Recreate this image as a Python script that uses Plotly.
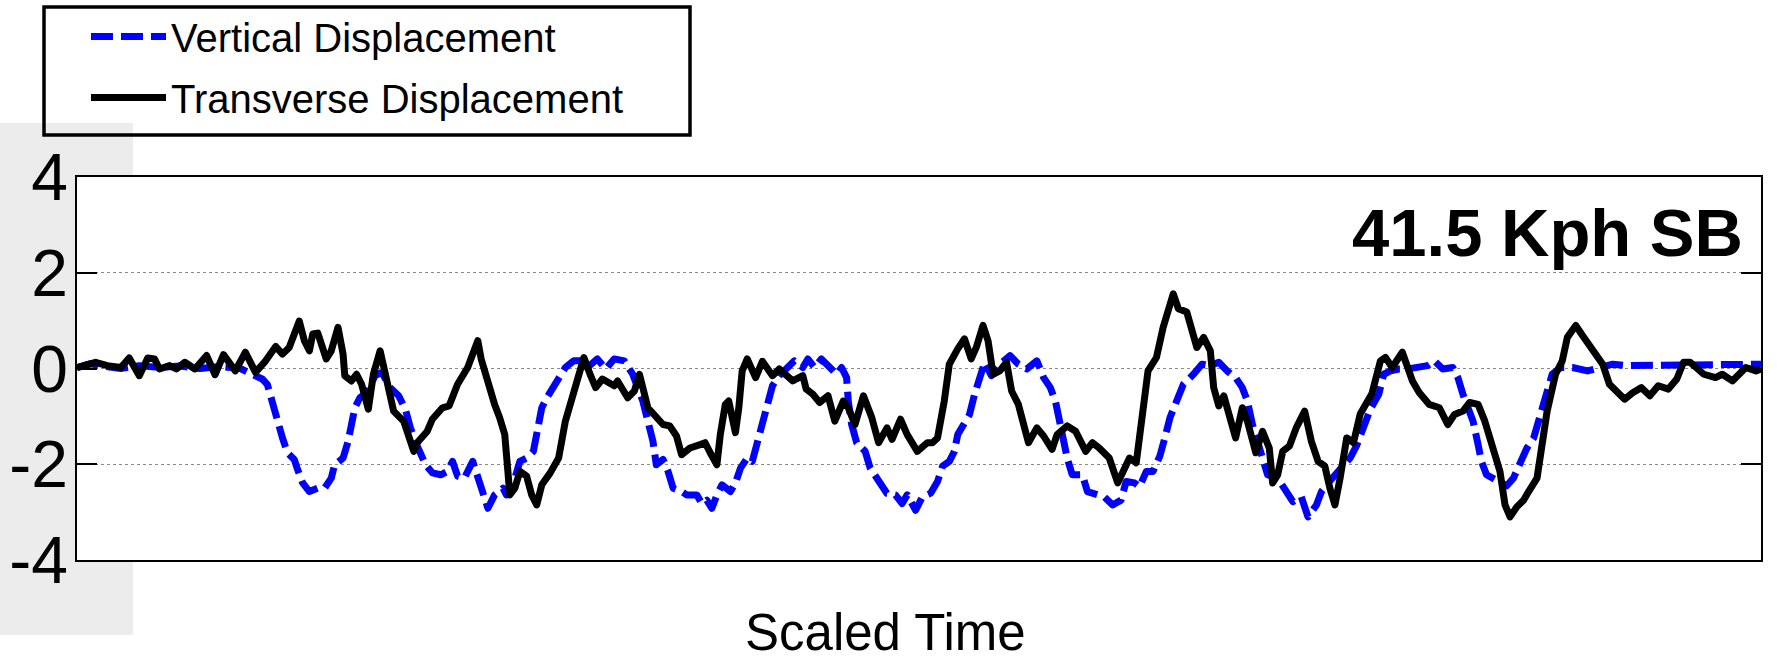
import plotly.graph_objects as go

# ---- data -----------------------------------------------------------------
# Scaled time runs from 0 (start of the record) to 1 (end of the record).
t_vertical = [
    0.000, 0.008, 0.015, 0.026, 0.037, 0.049, 0.061, 0.073, 0.085, 0.097,
    0.104, 0.110, 0.113, 0.116, 0.119, 0.122, 0.125, 0.126, 0.129, 0.131,
    0.134, 0.138, 0.143, 0.147, 0.151, 0.153, 0.158, 0.161, 0.163, 0.165,
    0.168, 0.172, 0.177, 0.181, 0.186, 0.191, 0.195, 0.198, 0.202, 0.207,
    0.211, 0.216, 0.220, 0.223, 0.226, 0.230, 0.235, 0.238, 0.241, 0.244,
    0.248, 0.253, 0.255, 0.260, 0.263, 0.267, 0.271, 0.274, 0.276, 0.279,
    0.283, 0.287, 0.290, 0.295, 0.300, 0.303, 0.309, 0.314, 0.319, 0.325,
    0.330, 0.333, 0.336, 0.339, 0.342, 0.344, 0.348, 0.351, 0.354, 0.359,
    0.362, 0.368, 0.371, 0.374, 0.377, 0.380, 0.383, 0.388, 0.391, 0.394,
    0.398, 0.401, 0.404, 0.407, 0.410, 0.413, 0.417, 0.422, 0.426, 0.431,
    0.434, 0.438, 0.442, 0.448, 0.451, 0.454, 0.457, 0.458, 0.460, 0.463,
    0.468, 0.471, 0.476, 0.481, 0.486, 0.490, 0.493, 0.498, 0.502, 0.507,
    0.511, 0.514, 0.518, 0.521, 0.523, 0.526, 0.530, 0.533, 0.536, 0.539,
    0.543, 0.548, 0.554, 0.559, 0.564, 0.570, 0.574, 0.578, 0.581, 0.583,
    0.586, 0.588, 0.591, 0.597, 0.600, 0.606, 0.610, 0.615, 0.620, 0.623,
    0.628, 0.631, 0.635, 0.639, 0.643, 0.646, 0.649, 0.653, 0.657, 0.663,
    0.668, 0.673, 0.678, 0.683, 0.688, 0.692, 0.695, 0.698, 0.701, 0.704,
    0.707, 0.713, 0.717, 0.722, 0.727, 0.731, 0.736, 0.739, 0.743, 0.747,
    0.752, 0.756, 0.760, 0.764, 0.768, 0.773, 0.776, 0.780, 0.785, 0.790,
    0.796, 0.802, 0.806, 0.811, 0.817, 0.820, 0.823, 0.826, 0.829, 0.832,
    0.834, 0.837, 0.841, 0.845, 0.849, 0.853, 0.857, 0.861, 0.865, 0.868,
    0.870, 0.873, 0.876, 0.881, 0.888, 0.897, 0.905, 0.912, 0.920, 0.928,
    0.938, 0.948, 0.958, 0.968, 0.977, 0.987, 1.000,
]
vertical_disp = [
    0.02, 0.10, 0.05, 0.00, 0.06, 0.02, 0.05, 0.00, 0.04, 0.00,
    -0.12, -0.22, -0.33, -0.75, -1.10, -1.45, -1.76, -1.80, -1.90, -2.11,
    -2.39, -2.57, -2.50, -2.50, -2.29, -2.01, -1.87, -1.52, -1.10, -0.82,
    -0.61, -0.50, -0.15, -0.08, -0.40, -0.57, -0.85, -1.24, -1.62, -2.01,
    -2.18, -2.22, -2.15, -1.94, -2.25, -2.29, -1.94, -2.29, -2.57, -2.92,
    -2.64, -2.50, -2.64, -2.29, -1.94, -1.87, -1.73, -1.24, -0.82, -0.61,
    -0.36, -0.15, 0.02, 0.16, 0.16, 0.02, 0.20, -0.01, 0.20, 0.16,
    -0.12, -0.40, -0.68, -1.10, -1.52, -2.01, -1.90, -2.15, -2.50, -2.57,
    -2.64, -2.64, -2.82, -2.75, -2.92, -2.64, -2.43, -2.57, -2.39, -2.08,
    -1.87, -1.94, -1.52, -1.10, -0.68, -0.36, -0.15, 0.02, 0.16, 0.02,
    0.20, 0.02, 0.20, -0.01, -0.12, 0.02, -0.19, -0.68, -1.17, -1.55,
    -1.73, -2.08, -2.36, -2.61, -2.64, -2.82, -2.64, -2.96, -2.68, -2.60,
    -2.36, -2.04, -1.94, -1.73, -1.38, -1.17, -0.96, -0.54, -0.19, 0.13,
    -0.15, 0.09, 0.27, 0.09, -0.01, 0.16, -0.19, -0.40, -0.68, -1.03,
    -1.45, -1.87, -2.22, -2.22, -2.57, -2.64, -2.68, -2.85, -2.75, -2.36,
    -2.39, -2.47, -2.15, -2.15, -1.83, -1.45, -1.03, -0.68, -0.33, -0.12,
    0.09, 0.06, 0.13, -0.05, -0.19, -0.40, -0.68, -1.17, -1.52, -1.80,
    -2.22, -2.29, -2.50, -2.78, -2.68, -3.10, -2.85, -2.57, -2.39, -2.22,
    -2.01, -1.87, -1.60, -1.20, -0.85, -0.54, -0.12, -0.05, -0.01, -0.01,
    0.02, 0.06, 0.16, -0.01, 0.02, -0.19, -0.54, -0.82, -1.10, -1.59,
    -1.94, -2.22, -2.29, -2.36, -2.45, -2.29, -1.94, -1.66, -1.45, -1.10,
    -0.75, -0.40, -0.12, 0.02, 0.02, -0.05, 0.02, 0.09, 0.06, 0.06,
    0.06, 0.06, 0.09, 0.06, 0.06, 0.09, 0.09,
]

t_transverse = [
    0.000, 0.004, 0.011, 0.018, 0.026, 0.031, 0.037, 0.042, 0.046, 0.049,
    0.055, 0.059, 0.064, 0.070, 0.077, 0.082, 0.087, 0.094, 0.100, 0.106,
    0.112, 0.118, 0.122, 0.126, 0.132, 0.135, 0.138, 0.140, 0.143, 0.148,
    0.151, 0.155, 0.158, 0.159, 0.163, 0.166, 0.169, 0.173, 0.176, 0.180,
    0.183, 0.188, 0.194, 0.200, 0.202, 0.208, 0.211, 0.217, 0.221, 0.226,
    0.232, 0.235, 0.238, 0.240, 0.244, 0.248, 0.251, 0.254, 0.256, 0.257,
    0.260, 0.263, 0.267, 0.270, 0.273, 0.276, 0.281, 0.286, 0.290, 0.294,
    0.297, 0.301, 0.305, 0.308, 0.312, 0.319, 0.321, 0.327, 0.331, 0.334,
    0.339, 0.344, 0.348, 0.352, 0.356, 0.359, 0.364, 0.370, 0.373, 0.376,
    0.380, 0.382, 0.385, 0.387, 0.391, 0.393, 0.395, 0.398, 0.403, 0.407,
    0.413, 0.417, 0.422, 0.425, 0.431, 0.433, 0.437, 0.441, 0.446, 0.450,
    0.455, 0.458, 0.462, 0.467, 0.472, 0.476, 0.481, 0.484, 0.489, 0.493,
    0.499, 0.505, 0.508, 0.511, 0.515, 0.518, 0.523, 0.527, 0.531, 0.534,
    0.538, 0.541, 0.544, 0.548, 0.552, 0.555, 0.559, 0.562, 0.565, 0.570,
    0.574, 0.579, 0.582, 0.588, 0.593, 0.599, 0.603, 0.607, 0.613, 0.618,
    0.621, 0.625, 0.629, 0.633, 0.636, 0.641, 0.645, 0.651, 0.654, 0.659,
    0.663, 0.665, 0.669, 0.673, 0.675, 0.678, 0.681, 0.685, 0.688, 0.692,
    0.695, 0.700, 0.704, 0.708, 0.710, 0.713, 0.716, 0.720, 0.724, 0.729,
    0.733, 0.737, 0.741, 0.744, 0.747, 0.750, 0.754, 0.758, 0.762, 0.769,
    0.774, 0.777, 0.781, 0.787, 0.790, 0.793, 0.797, 0.803, 0.809, 0.814,
    0.818, 0.823, 0.827, 0.832, 0.836, 0.841, 0.845, 0.848, 0.851, 0.855,
    0.859, 0.862, 0.867, 0.870, 0.873, 0.878, 0.882, 0.885, 0.890, 0.894,
    0.900, 0.906, 0.910, 0.915, 0.919, 0.924, 0.929, 0.934, 0.939, 0.945,
    0.950, 0.954, 0.958, 0.966, 0.973, 0.977, 0.983, 0.991, 0.997, 1.000,
]
transverse_disp = [
    0.02, 0.06, 0.13, 0.06, 0.02, 0.22, -0.15, 0.22, 0.20, -0.01,
    0.06, -0.01, 0.13, -0.01, 0.27, -0.13, 0.29, -0.05, 0.34, -0.08,
    0.16, 0.46, 0.30, 0.44, 0.99, 0.58, 0.37, 0.72, 0.74, 0.20,
    0.37, 0.86, 0.30, -0.15, -0.26, -0.12, -0.33, -0.85, -0.12, 0.37,
    -0.12, -0.89, -1.10, -1.73, -1.55, -1.31, -1.06, -0.82, -0.78, -0.33,
    0.02, 0.34, 0.58, 0.20, -0.33, -0.75, -1.03, -1.38, -2.20, -2.64,
    -2.50, -2.15, -2.25, -2.64, -2.85, -2.43, -2.18, -1.87, -1.10, -0.64,
    -0.33, 0.23, -0.15, -0.40, -0.22, -0.36, -0.26, -0.61, -0.47, -0.12,
    -0.82, -1.03, -1.17, -1.20, -1.41, -1.80, -1.66, -1.59, -1.55, -1.76,
    -2.01, -1.38, -0.75, -0.68, -1.34, -0.82, -0.05, 0.20, -0.19, 0.15,
    -0.15, -0.01, -0.15, -0.26, -0.15, -0.43, -0.54, -0.71, -0.57, -1.10,
    -0.68, -0.82, -1.17, -0.57, -1.03, -1.55, -1.24, -1.48, -1.06, -1.38,
    -1.73, -1.55, -1.55, -1.45, -0.68, 0.09, 0.41, 0.62, 0.20, 0.44,
    0.90, 0.58, -0.12, -0.05, 0.13, -0.47, -0.75, -1.10, -1.55, -1.24,
    -1.41, -1.69, -1.38, -1.20, -1.31, -1.73, -1.55, -1.66, -1.87, -2.39,
    -2.15, -1.87, -1.97, -0.96, -0.05, 0.23, 0.86, 1.56, 1.25, 1.18,
    0.65, 0.44, 0.65, 0.37, -0.40, -0.78, -0.57, -1.03, -1.45, -0.82,
    -1.10, -1.76, -1.31, -1.66, -2.39, -2.22, -1.73, -1.62, -1.24, -0.89,
    -1.52, -1.94, -2.04, -2.50, -2.85, -2.30, -1.45, -1.55, -0.95, -0.52,
    0.16, 0.23, 0.02, 0.34, 0.02, -0.26, -0.50, -0.75, -0.82, -1.17,
    -0.96, -0.89, -0.71, -0.75, -1.10, -1.66, -2.15, -2.85, -3.10, -2.89,
    -2.75, -2.57, -2.29, -1.59, -0.89, -0.12, 0.16, 0.65, 0.90, 0.69,
    0.37, 0.09, -0.33, -0.50, -0.64, -0.50, -0.40, -0.57, -0.36, -0.43,
    -0.22, 0.13, 0.13, -0.12, -0.19, -0.12, -0.26, 0.02, -0.05, -0.01,
]

y_tick_values = [-4, -2, 0, 2, 4]
y_tick_text = ["-4", "-2", "0", "2", "4"]

# ---- page geometry --------------------------------------------------------
W, H = 1777, 663
M_L, M_R, M_T, M_B = 77, 16, 177, 103
PLOT_W = W - M_L - M_R
PLOT_H = H - M_T - M_B


def px_x(px):
    """Page pixel column -> paper x."""
    return (px - M_L) / PLOT_W


def px_y(py):
    """Page pixel row -> paper y."""
    return (H - M_B - py) / PLOT_H


FONT = "Liberation Sans, Arial, sans-serif"
LINE_W = 7

fig = go.Figure()
fig.add_trace(go.Scatter(
    x=t_vertical, y=vertical_disp, mode="lines",
    name="Vertical Displacement", legendgroup="vertical",
    line=dict(color="#0000ff", width=LINE_W, dash="22px,8px"),
))
fig.add_trace(go.Scatter(
    x=t_transverse, y=transverse_disp, mode="lines",
    name="Transverse Displacement", legendgroup="transverse",
    line=dict(color="#000000", width=LINE_W),
))

# light textured panel behind the left side of the page
panel = "#ececec"
for x0, x1, y0, y1 in [(0, 133, 123, M_T), (0, M_L, M_T, H - M_B), (0, 133, H - M_B, 635)]:
    fig.add_shape(type="rect", xref="paper", yref="paper",
                  x0=px_x(x0), x1=px_x(x1), y0=px_y(y1), y1=px_y(y0),
                  line=dict(width=0), fillcolor=panel, layer="below")

# frame around the legend entries
fig.add_shape(type="rect", xref="paper", yref="paper",
              x0=px_x(44), x1=px_x(690), y0=px_y(135), y1=px_y(7),
              line=dict(color="black", width=3.5), fillcolor="rgba(0,0,0,0)",
              layer="above")

fig.add_annotation(
    xref="paper", yref="y", x=1, y=2.85, xanchor="right", yanchor="middle",
    xshift=-16, text="<b>41.5 Kph SB</b>", showarrow=False,
    font=dict(family=FONT, size=67, color="black"),
)
fig.add_annotation(
    xref="paper", yref="paper", x=px_x(W / 2 - 3), y=px_y(H),
    xanchor="center", yanchor="bottom", text="Scaled Time", showarrow=False,
    font=dict(family=FONT, size=51, color="black"),
)

fig.update_layout(
    width=W, height=H, autosize=False,
    margin=dict(l=M_L, r=M_R, t=M_T, b=M_B, pad=0, autoexpand=False),
    paper_bgcolor="white", plot_bgcolor="white",
    font=dict(family=FONT, color="black"),
    showlegend=True,
    legend=dict(
        x=px_x(86), y=px_y(4), xanchor="left", yanchor="top",
        bgcolor="rgba(0,0,0,0)", borderwidth=0,
        font=dict(family=FONT, size=40, color="black"),
        itemwidth=75, traceorder="grouped", tracegroupgap=6,
    ),
)
fig.update_xaxes(
    range=[0, 1], showticklabels=False, ticks="", showgrid=False,
    zeroline=False, showline=True, linecolor="black", linewidth=1.5, mirror=True,
)
fig.update_yaxes(
    range=[-4, 4], tickvals=y_tick_values, ticktext=y_tick_text,
    ticks="inside", ticklen=20, tickwidth=1.5, tickcolor="black",
    tickfont=dict(family=FONT, size=66, color="black"), ticklabelstandoff=-6,
    showgrid=True, gridcolor="#8a8a8a", griddash="dot", gridwidth=1,
    zeroline=False, showline=True, linecolor="black", linewidth=1.5, mirror="ticks",
)

round_joins = (
    "document.querySelectorAll('.scatterlayer .js-line').forEach("
    "function (p) { p.style.strokeLinejoin = 'round'; });"
)
fig.write_html("out.html", post_script=round_joins)
